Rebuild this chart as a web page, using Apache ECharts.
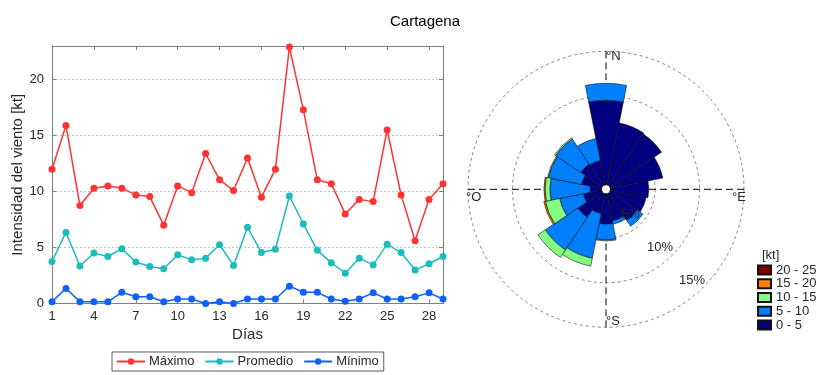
<!DOCTYPE html>
<html>
<head>
<meta charset="utf-8">
<script src="https://cdn.jsdelivr.net/npm/echarts@6/dist/echarts.min.js"></script>
<style>
  html, body { margin: 0; padding: 0; background: #fff; }
  #chart { width: 820px; height: 375px; }
</style>
</head>
<body>
<div id="chart"></div>
<script>
// Daily wind speed at Cartagena (kt)
const days = ['1','2','3','4','5','6','7','8','9','10','11','12','13','14','15',
              '16','17','18','19','20','21','22','23','24','25','26','27','28','29'];
const maximo   = [12.0, 15.9, 8.75, 10.3, 10.5, 10.3, 9.7, 9.55, 7.0, 10.5, 9.9, 13.4, 11.05, 10.1, 13.0,
                  9.5, 12.0, 22.9, 17.3, 11.05, 10.7, 8.0, 9.3, 9.1, 15.5, 9.7, 5.6, 9.3, 10.7];
const promedio = [3.75, 6.35, 3.35, 4.5, 4.2, 4.9, 3.7, 3.3, 3.1, 4.35, 3.9, 4.05, 5.25, 3.4, 6.8,
                  4.55, 4.85, 9.6, 7.1, 4.75, 3.65, 2.7, 4.05, 3.45, 5.3, 4.55, 3.0, 3.55, 4.2];
const minimo   = [0.15, 1.35, 0.15, 0.15, 0.15, 1.0, 0.6, 0.6, 0.15, 0.4, 0.4, 0.0, 0.15, 0.0, 0.4,
                  0.4, 0.4, 1.55, 1.0, 1.0, 0.4, 0.2, 0.4, 0.95, 0.4, 0.4, 0.6, 0.95, 0.4];
const yTicks = [0, 5, 10, 15, 20];

// Wind rose: frequency (%) per direction and speed class
const directions = ['N','NNE','NE','ENE','E','ESE','SE','SSE','S','SSW','SW','WSW','W','WNW','NW','NNW'];
const speed0to5   = [9.5, 7.1, 7.0, 6.0, 4.3, 4.1, 3.7, 3.1, 3.4, 2.3, 3.3, 2.1, 1.3, 2.3, 2.9, 2.8];
const speed5to10  = [1.9, 0, 0, 0, 0, 0, 0.8, 0.4, 1.8, 5.1, 4.4, 2.7, 4.5, 3.8, 3.4, 2.5];
const speed10to15 = [0, 0, 0, 0, 0, 0, 0, 0, 0.1, 0.9, 1.0, 1.65, 0.55, 0.1, 0.15, 0];
const speed15to20 = [0, 0, 0, 0, 0, 0, 0, 0, 0, 0, 0, 0.17, 0.12, 0, 0, 0];
const speed20to25 = [0, 0, 0, 0, 0, 0, 0, 0, 0, 0, 0, 0, 0, 0, 0, 0];
const speedClasses = ['0 - 5', '5 - 10', '10 - 15', '15 - 20', '20 - 25'];
const ringLabels = ['5%', '10%', '15%'];

const FONT = "'Liberation Sans', Arial, Helvetica, sans-serif";
const TXT = '#262626';
const AX = '#7f7f7f';
const classColors = ['#000080', '#0080ff', '#80ff80', '#ff8000', '#800000'];
const lineColors = ['#ff3333', '#1cbcbc', '#0d62f5'];

const roseCenter = [606, 189.3];
const roseRadius = [4.5, 138];

const chart = echarts.init(document.getElementById('chart'), null, { renderer: 'canvas' });

function lineSeries(name, data, color) {
  return {
    name, type: 'line', data, xAxisIndex: 0, yAxisIndex: 0,
    symbol: 'circle', symbolSize: 7, showSymbol: true,
    lineStyle: { color, width: 1.5 },
    itemStyle: { color },
    z: 3
  };
}

const speedData = [speed0to5, speed5to10, speed10to15, speed15to20, speed20to25];
const roseSeries = speedClasses.map((name, i) => ({
  name,
  type: 'bar',
  coordinateSystem: 'polar',
  polarIndex: 0,
  stack: 'rose',
  barCategoryGap: '0%',
  data: speedData[i].map(v => (v > 0 ? v : null)),
  itemStyle: { color: classColors[i], borderColor: '#111', borderWidth: 0.6 },
  emphasis: { disabled: true },
  z: 4
}));

const option = {
  animation: false,
  backgroundColor: '#fff',
  textStyle: { fontFamily: FONT },
  title: [
    { text: 'Cartagena', left: 420, top: 9, textAlign: 'center',
      textStyle: { fontFamily: FONT, fontSize: 15, fontWeight: 'normal', color: '#000' } },
    { text: '[kt]', left: 757, top: 244,
      textStyle: { fontFamily: FONT, fontSize: 13, fontWeight: 'normal', color: TXT } }
  ],
  grid: { left: 52, top: 46, width: 391, height: 257.5, show: false },
  xAxis: [
    { type: 'category', data: days, boundaryGap: false, gridIndex: 0,
      name: 'Días', nameLocation: 'middle', nameGap: 23,
      nameTextStyle: { fontFamily: FONT, fontSize: 15, color: TXT },
      axisLine: { show: true, onZero: false, lineStyle: { color: AX, width: 1 } },
      axisTick: { show: true, inside: true, length: 4, interval: 2, lineStyle: { color: AX } },
      axisLabel: { interval: 2, margin: 6, fontFamily: FONT, fontSize: 13, color: TXT },
      splitLine: { show: false } },
    { type: 'category', data: days, boundaryGap: false, gridIndex: 0, position: 'top',
      axisLine: { show: true, onZero: false, lineStyle: { color: AX, width: 1 } },
      axisTick: { show: true, inside: true, length: 4, interval: 2, lineStyle: { color: AX } },
      axisLabel: { show: false }, splitLine: { show: false } }
  ],
  yAxis: [
    { type: 'value', min: 0, max: 23, interval: 5, gridIndex: 0,
      name: 'Intensidad del viento [kt]', nameLocation: 'middle', nameGap: 26,
      nameTextStyle: { fontFamily: FONT, fontSize: 15, color: TXT },
      axisLine: { show: true, onZero: false, lineStyle: { color: AX, width: 1 } },
      axisTick: { show: true, inside: true, length: 4, lineStyle: { color: AX } },
      axisLabel: { margin: 8, fontFamily: FONT, fontSize: 13, color: TXT, showMaxLabel: false,
                   formatter: v => (yTicks.indexOf(v) >= 0 ? String(v) : '') },
      splitLine: { show: true, lineStyle: { color: '#c4c4c4', type: [2, 2], width: 1 } } },
    { type: 'value', min: 0, max: 23, interval: 5, gridIndex: 0, position: 'right',
      axisLine: { show: true, onZero: false, lineStyle: { color: AX, width: 1 } },
      axisTick: { show: true, inside: true, length: 4, lineStyle: { color: AX } },
      axisLabel: { show: false }, splitLine: { show: false } }
  ],
  polar: [
    { center: roseCenter, radius: roseRadius },
    { center: roseCenter, radius: roseRadius }
  ],
  angleAxis: [
    { polarIndex: 0, type: 'category', data: directions, startAngle: 101.25, clockwise: true,
      boundaryGap: true,
      axisLine: { show: false }, axisTick: { show: false }, axisLabel: { show: false },
      splitLine: { show: false }, splitArea: { show: false } },
    { polarIndex: 1, type: 'value', min: 0, max: 360, interval: 90, startAngle: 90, clockwise: true,
      axisLine: { show: false }, axisTick: { show: false }, axisLabel: { show: false },
      splitLine: { show: true, lineStyle: { color: '#000', type: [7, 4], width: 1 } },
      splitArea: { show: false } }
  ],
  radiusAxis: [
    { polarIndex: 0, type: 'value', min: 0, max: 15,
      axisLine: { show: false }, axisTick: { show: false }, axisLabel: { show: false },
      splitLine: { show: false } },
    { polarIndex: 1, type: 'value', min: 0, max: 15, interval: 5,
      axisLine: { show: false }, axisTick: { show: false }, axisLabel: { show: false },
      splitLine: { show: true, lineStyle: { color: '#666', type: [3, 3], width: 0.8 } } }
  ],
  legend: [
    { data: ['Máximo', 'Promedio', 'Mínimo'], left: 112, top: 352, orient: 'horizontal',
      itemWidth: 28, itemHeight: 8, itemGap: 10, padding: [3, 5, 3, 4],
      borderColor: '#333', borderWidth: 0.8, selectedMode: false,
      textStyle: { fontFamily: FONT, fontSize: 13, color: TXT, padding: [0, 0, 0, -1] } },
    { data: ['20 - 25', '15 - 20', '10 - 15', '5 - 10', '0 - 5'], left: 757, top: 263.5,
      orient: 'vertical', icon: 'rect', itemWidth: 13, itemHeight: 9, itemGap: 0.75,
      padding: 0, selectedMode: false,
      textStyle: { fontFamily: FONT, fontSize: 13, lineHeight: 12, color: TXT } }
  ],
  graphic: [
    { type: 'text', left: 606, top: 50, style: { text: '°N', font: '13px ' + FONT, fill: TXT }, z: 10 },
    { type: 'text', left: 732, top: 191, style: { text: '°E', font: '13px ' + FONT, fill: TXT }, z: 10 },
    { type: 'text', left: 606, top: 315, style: { text: '°S', font: '13px ' + FONT, fill: TXT }, z: 10 },
    { type: 'text', left: 466, top: 191, style: { text: '°O', font: '13px ' + FONT, fill: TXT }, z: 10 },
    { type: 'text', left: 621, top: 208, style: { text: ringLabels[0], font: '13px ' + FONT, fill: TXT }, z: 10 },
    { type: 'text', left: 647, top: 241, style: { text: ringLabels[1], font: '13px ' + FONT, fill: TXT }, z: 10 },
    { type: 'text', left: 679, top: 274, style: { text: ringLabels[2], font: '13px ' + FONT, fill: TXT }, z: 10 }
  ],
  series: [
    lineSeries('Máximo', maximo, lineColors[0]),
    lineSeries('Promedio', promedio, lineColors[1]),
    lineSeries('Mínimo', minimo, lineColors[2]),
    ...roseSeries
  ]
};

chart.setOption(option);
</script>
</body>
</html>
